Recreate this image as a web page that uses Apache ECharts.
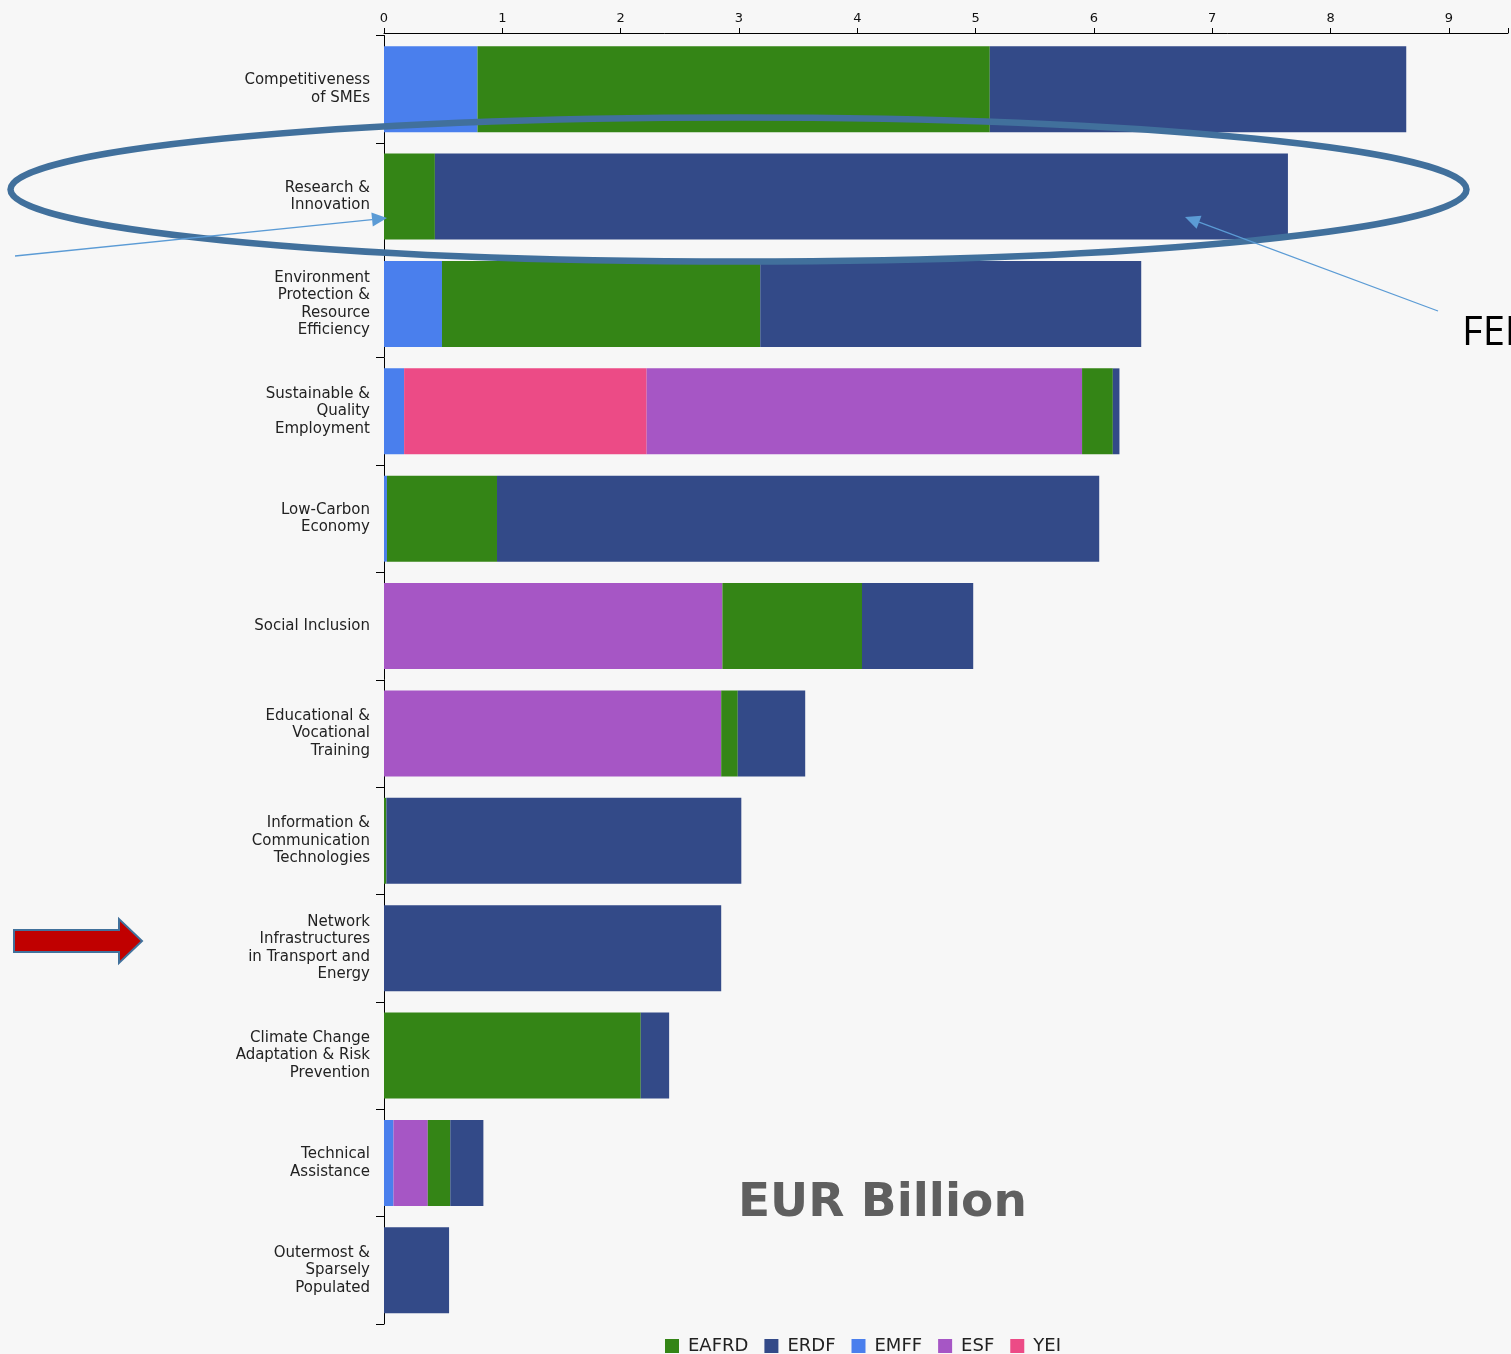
<!DOCTYPE html>
<html>
<head>
<meta charset="utf-8">
<script src="https://cdn.jsdelivr.net/npm/echarts@6/dist/echarts.min.js"></script>
<style>
  html, body { margin: 0; padding: 0; background: #f7f7f7; }
  #chart { width: 1511px; height: 1354px; }
</style>
</head>
<body>
<div id="chart"></div>
<script>
// categories, top to bottom
const categories = [
  'Competitiveness\nof SMEs',
  'Research &\nInnovation',
  'Environment\nProtection &\nResource\nEfficiency',
  'Sustainable &\nQuality\nEmployment',
  'Low-Carbon\nEconomy',
  'Social Inclusion',
  'Educational &\nVocational\nTraining',
  'Information &\nCommunication\nTechnologies',
  'Network\nInfrastructures\nin Transport and\nEnergy',
  'Climate Change\nAdaptation & Risk\nPrevention',
  'Technical\nAssistance',
  'Outermost &\nSparsely\nPopulated'
]

// EUR billion per fund
const emff  = [0.79, 0, 0.49, 0.17, 0.025, 0, 0, 0, 0, 0, 0.08, 0]
const yei   = [0, 0, 0, 2.05, 0, 0, 0, 0, 0, 0, 0, 0]
const esf   = [0, 0, 0, 3.68, 0, 2.86, 2.85, 0, 0, 0, 0.29, 0]
const eafrd = [4.33, 0.43, 2.69, 0.26, 0.93, 1.18, 0.14, 0.02, 0, 2.17, 0.19, 0]
const erdf  = [3.52, 7.21, 3.22, 0.056, 5.09, 0.94, 0.57, 3.0, 2.85, 0.24, 0.28, 0.55]

const legendOrder = ['EAFRD', 'ERDF', 'EMFF', 'ESF', 'YEI']

const colors = {
  EAFRD: '#348516',
  ERDF: '#334a88',
  EMFF: '#4a7fed',
  ESF: '#a656c5',
  YEI: '#ec4b86'
}

const chart = echarts.init(document.getElementById('chart'))

function bar(name, data) {
  return {
    name: name,
    type: 'bar',
    stack: 'total',
    data: data,
    barCategoryGap: '20%',
    itemStyle: { color: colors[name] },
    emphasis: { disabled: true }
  }
}

// little helper for annotation arrows (line + triangle head)
function arrowLine(x1, y1, x2, y2, color) {
  const dx = x2 - x1, dy = y2 - y1
  const len = Math.sqrt(dx * dx + dy * dy)
  const ux = dx / len, uy = dy / len
  const hl = 15, hw = 7
  const bx = x2 - ux * hl, by = y2 - uy * hl
  return [
    {
      type: 'line',
      z: 100,
      shape: { x1: x1, y1: y1, x2: bx, y2: by },
      style: { stroke: color, lineWidth: 1.3 }
    },
    {
      type: 'polygon',
      z: 100,
      shape: { points: [[x2, y2], [bx - uy * hw, by + ux * hw], [bx + uy * hw, by - ux * hw]] },
      style: { fill: color }
    }
  ]
}

const option = {
  backgroundColor: '#f7f7f7',
  animation: false,
  textStyle: { fontFamily: 'DejaVu Sans' },
  grid: { left: 384, right: 2, top: 35.5, bottom: 30 },
  legend: {
    data: legendOrder,
    left: 660,
    top: 1332,
    itemWidth: 14,
    itemHeight: 14,
    itemGap: 16,
    icon: 'rect',
    textStyle: { fontSize: 18, color: '#222', fontFamily: 'DejaVu Sans', padding: [0, 0, 0, 4] }
  },
  xAxis: {
    type: 'value',
    position: 'top',
    offset: 2.5,
    min: 0,
    max: 9.5,
    interval: 1,
    axisLine: { show: true, lineStyle: { color: '#000', width: 1 } },
    axisTick: { show: true, length: 5, lineStyle: { color: '#000' } },
    axisLabel: {
      fontSize: 13,
      color: '#111',
      margin: 8,
      formatter: v => (v % 1 === 0 ? String(v) : '')
    },
    splitLine: { show: false }
  },
  yAxis: {
    type: 'category',
    data: categories,
    inverse: true,
    axisLine: { show: true, lineStyle: { color: '#000', width: 1 } },
    axisTick: { show: true, length: 8, lineStyle: { color: '#000' } },
    axisLabel: {
      fontSize: 15,
      lineHeight: 17.5,
      color: '#222',
      margin: 14,
      align: 'right'
    }
  },
  series: [
    bar('EMFF', emff),
    bar('YEI', yei),
    bar('ESF', esf),
    bar('EAFRD', eafrd),
    bar('ERDF', erdf)
  ],
  graphic: [
    {
      type: 'ellipse',
      z: 100,
      shape: { cx: 738.5, cy: 189.5, rx: 728, ry: 72 },
      style: { fill: 'none', stroke: '#41709c', lineWidth: 6.5 }
    },
    ...arrowLine(15, 256, 387, 218, '#5b9bd5'),
    ...arrowLine(1438, 311, 1185, 217, '#5b9bd5'),
    {
      type: 'polygon',
      z: 100,
      shape: {
        points: [[14, 930], [119, 930], [119, 919], [142, 941], [119, 963], [119, 952], [14, 952]]
      },
      style: { fill: '#c00000', stroke: '#41719c', lineWidth: 2 }
    },
    {
      type: 'text',
      z: 100,
      left: 1462,
      top: 314,
      style: { text: 'FEDER', font: '40px "Open Sans", "Liberation Sans", sans-serif', fill: '#000' }
    },
    {
      type: 'text',
      z: 100,
      left: 738,
      top: 1180,
      style: { text: 'EUR Billion', font: 'bold 47px "DejaVu Sans"', fill: '#5f5f5f' }
    }
  ]
}

chart.setOption(option)
</script>
</body>
</html>
